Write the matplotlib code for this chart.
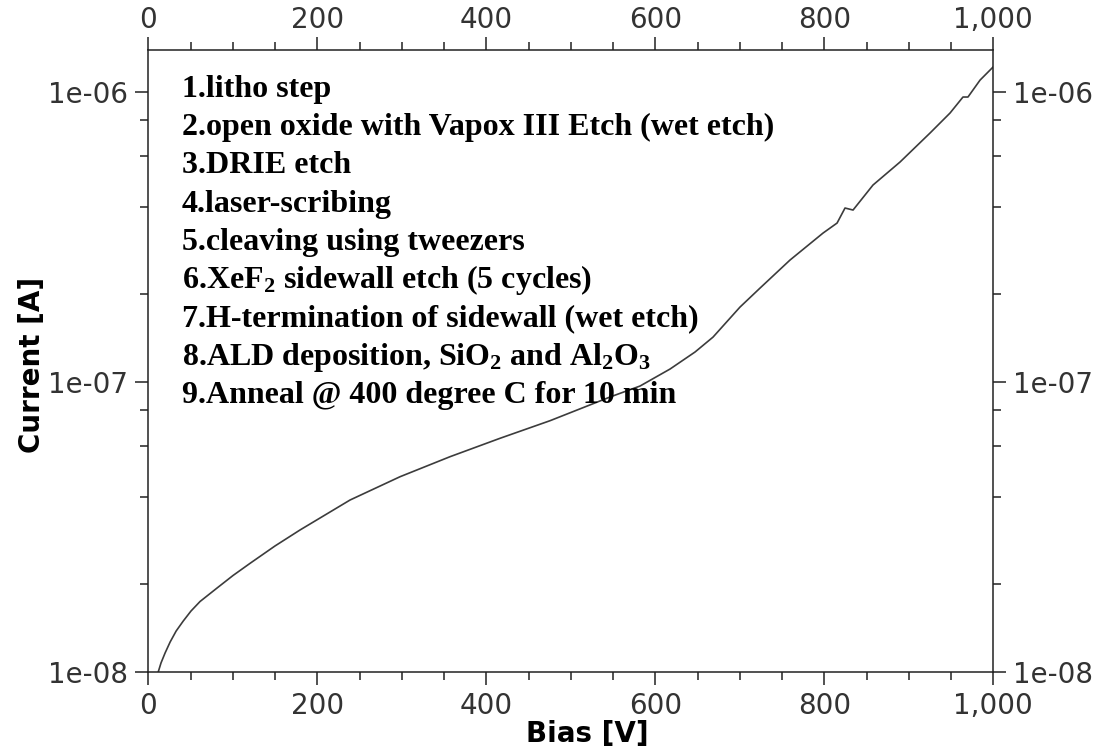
import matplotlib
matplotlib.use("Agg")
import matplotlib.pyplot as plt
from matplotlib.transforms import ScaledTranslation
from matplotlib.ticker import FuncFormatter, LogLocator, MultipleLocator, NullFormatter

# IV sweep of the cleaved sidewall device
bias = [11.8, 15.0, 19.8, 25.8, 32.9, 41.3, 50.5, 61.2, 81.3, 100.2,
        120.4, 149.9, 179.5, 238.7, 297.9, 357.0, 416.2, 475.4, 546.4, 581.9,
        617.4, 647.0, 668.3, 700.2, 723.9, 759.4, 798.5, 815.1, 824.5, 834.0,
        857.6, 889.6, 925.1, 948.8, 964.1, 970.0, 984.3, 999.6]
current = [1.000e-8, 1.072e-8, 1.160e-8, 1.266e-8, 1.381e-8, 1.495e-8, 1.619e-8, 1.746e-8,
           1.943e-8, 2.146e-8, 2.364e-8, 2.713e-8, 3.080e-8, 3.907e-8, 4.701e-8, 5.510e-8,
           6.377e-8, 7.333e-8, 8.851e-8, 9.656e-8, 1.105e-7, 1.265e-7, 1.424e-7, 1.807e-7,
           2.101e-7, 2.625e-7, 3.252e-7, 3.521e-7, 3.967e-7, 3.904e-7, 4.761e-7, 5.715e-7,
           7.194e-7, 8.433e-7, 9.574e-7, 9.574e-7, 1.095e-6, 1.214e-6]

process_steps = [
    "1.litho step",
    "2.open oxide with Vapox III Etch (wet etch)",
    "3.DRIE etch",
    "4.laser-scribing",
    "5.cleaving using tweezers",
    "6.XeF$_2$ sidewall etch (5 cycles)",
    "7.H-termination of sidewall (wet etch)",
    "8.ALD deposition, SiO$_2$ and Al$_2$O$_3$",
    "9.Anneal @ 400 degree C for 10 min",
]

plt.rcParams["mathtext.fontset"] = "custom"
plt.rcParams["mathtext.rm"] = "Liberation Serif:bold"
plt.rcParams["mathtext.default"] = "rm"

fig = plt.figure(figsize=(11.07, 7.48), dpi=100)
ax = fig.add_axes([0.134, 0.102, 0.7633, 0.8318])

ax.plot(bias, current, color="#3c3c3c", linewidth=1.2)

ax.set_yscale("log")
ax.set_xlim(0, 1000)
ax.set_ylim(1e-8, 1.396e-6)

ax.xaxis.set_major_locator(MultipleLocator(200))
ax.xaxis.set_minor_locator(MultipleLocator(50))
ax.xaxis.set_major_formatter(FuncFormatter(lambda v, p: f"{v:,.0f}"))
ax.yaxis.set_major_locator(LogLocator(base=10, numticks=10))
ax.yaxis.set_minor_locator(LogLocator(base=10, subs=(2, 4, 6, 8), numticks=10))
ax.yaxis.set_major_formatter(FuncFormatter(lambda v, p: f"{v:.0e}"))
ax.yaxis.set_minor_formatter(NullFormatter())

ax.tick_params(which="both", direction="out", top=True, right=True,
               labeltop=True, labelright=True, color="#222222", width=1.1)
ax.tick_params(which="major", length=9.5, pad=5, labelsize=20, labelcolor="#333333")
ax.tick_params(which="minor", length=5.5)
for s in ax.spines.values():
    s.set_color("#222222")
    s.set_linewidth(1.1)

# bring the top labels a little closer to the frame
shift = ScaledTranslation(0, -0.05, fig.dpi_scale_trans)
for tick in ax.xaxis.get_major_ticks():
    tick.label2.set_transform(tick.label2.get_transform() + shift)

ax.set_xlabel("Bias [V]", fontsize=20, fontweight="bold")
ax.set_ylabel("Current [A]", fontsize=20, fontweight="bold")
ax.xaxis.set_label_coords(0.519, -0.078)
ax.yaxis.set_label_coords(-0.121, 0.493)

# process list, one line per step
for i, step in enumerate(process_steps):
    ax.text(0.0399, 0.9241 - i * 0.06156, step, transform=ax.transAxes,
            family="Liberation Serif", fontweight="bold", fontsize=23,
            va="baseline", ha="left", color="black")

fig.savefig("out.png", dpi=100)
